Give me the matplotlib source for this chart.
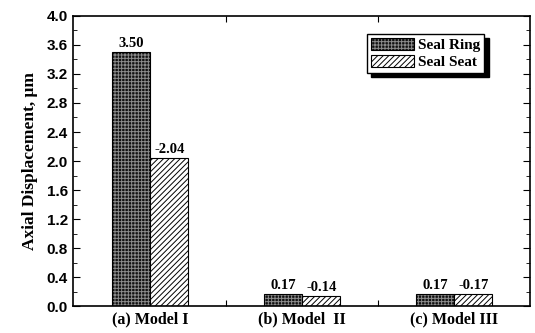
import numpy as np
import matplotlib.pyplot as plt
from matplotlib.ticker import MultipleLocator

# data
models = ["(a) Model I", "(b) Model  II", "(c) Model III"]
seal_ring = [3.50, 0.17, 0.17]
seal_seat = [2.04, 0.14, 0.17]
ring_labels = ["3.50", "0.17", "0.17"]
seat_labels = ["-2.04", "-0.14", "-0.17"]

plt.rcParams["hatch.linewidth"] = 0.7
serif = "Liberation Serif"
sans = "Liberation Sans"

fig = plt.figure(figsize=(5.35, 3.33), dpi=100)
ax = fig.add_axes([0.136, 0.081, 0.855, 0.871])

x = np.arange(1, len(models) + 1)
w = 0.25
b1 = ax.bar(x - w / 2, seal_ring, w, color="#111111", edgecolor="black",
            hatch="+++++", linewidth=0.8, label="Seal Ring")
b2 = ax.bar(x + w / 2, seal_seat, w, color="white", edgecolor="black",
            hatch="//////", linewidth=0.8, label="Seal Seat")
# hatch colours
for p in b2:
    p._hatch_color = (0, 0, 0, 1)
for p in b1:
    p._hatch_color = (0.55, 0.55, 0.55, 1)

for xi, v, s in zip(x - w / 2, seal_ring, ring_labels):
    ax.text(xi, v + 0.03, s, ha="center", va="bottom", fontsize=10.5,
            fontweight="bold", family=serif)
for xi, v, s in zip(x + w / 2, seal_seat, seat_labels):
    ax.text(xi, v + 0.03, s, ha="center", va="bottom", fontsize=10.5,
            fontweight="bold", family=serif)

ax.set_xlim(0.49, 3.5)
ax.set_ylim(0, 4.0)
ax.yaxis.set_major_locator(MultipleLocator(0.4))
ax.yaxis.set_minor_locator(MultipleLocator(0.2))
ax.set_xticks([1.5, 2.5])
ax.set_xticklabels([])
ax.set_xticks(x, minor=True)
ax.set_xticklabels(models, minor=True, fontsize=11.5, fontweight="bold",
                   family=serif)
ax.tick_params(axis="x", which="minor", length=0, pad=4)
ax.tick_params(axis="x", which="major", direction="in", length=4, top=True)
ax.tick_params(axis="y", which="both", direction="in", right=True)
ax.tick_params(axis="y", which="major", length=5)
ax.tick_params(axis="y", which="minor", length=3)
ax.yaxis.set_major_formatter(plt.FuncFormatter(lambda v, p: f"{v:.1f}"))
for lab in ax.get_yticklabels():
    lab.set_fontweight("bold")
    lab.set_family(sans)
    lab.set_fontsize(11)

ax.set_ylabel("Axial Displacement, \u03bcm", fontsize=12.5, fontweight="bold",
              family=serif, labelpad=6)
for s in ax.spines.values():
    s.set_linewidth(1.2)

leg = ax.legend(loc="upper right", bbox_to_anchor=(0.9, 0.938), fancybox=False,
                shadow={"color": "black", "alpha": 1, "ox": 3, "oy": -3},
                edgecolor="black", framealpha=1, borderaxespad=0,
                prop={"family": serif, "weight": "bold", "size": 11},
                handlelength=2.8, handleheight=0.9, borderpad=0.25,
                labelspacing=0.15, handletextpad=0.3)

fig.savefig("out.png", dpi=100)
